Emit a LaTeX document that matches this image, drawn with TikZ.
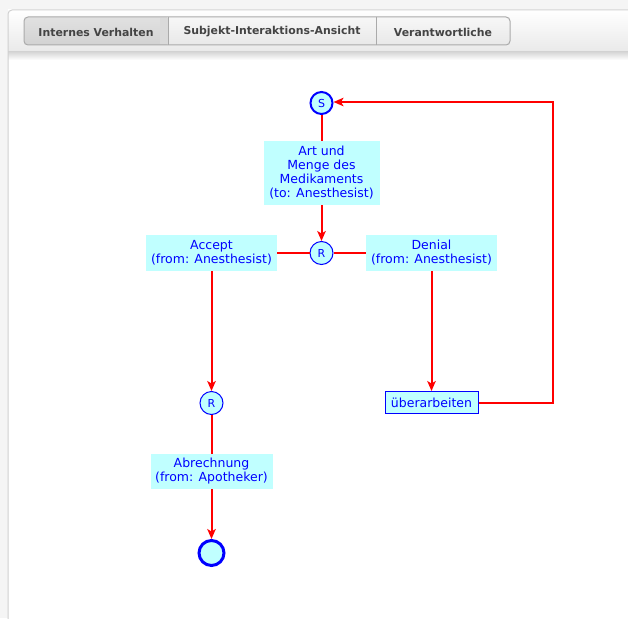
\documentclass[tikz,border=0pt]{standalone}
\usepackage{fontspec}
\setmainfont{DejaVu Sans}
\usetikzlibrary{arrows.meta}
\definecolor{cyanfill}{RGB}{192,255,255}
\definecolor{nodeblue}{RGB}{0,0,255}
\definecolor{linered}{RGB}{255,0,0}
\definecolor{pagebg}{RGB}{245,245,245}
\definecolor{framegray}{RGB}{208,208,208}
\definecolor{tabborder}{RGB}{170,170,170}
\definecolor{tabtext}{RGB}{68,68,68}
\definecolor{hdrbottom}{RGB}{233,233,233}
\definecolor{shadowtop}{RGB}{215,215,215}
\definecolor{seltop}{RGB}{225,225,225}
\definecolor{selbottom}{RGB}{210,210,210}
\definecolor{seledge}{RGB}{218,218,218}
\definecolor{tabtop}{RGB}{247,247,247}
\definecolor{tabbottom}{RGB}{232,232,232}
\tikzset{
  lbl/.style={font=\fontsize{12.5}{14}\selectfont, text=nodeblue, align=center},
  msgbox/.style={lbl, rectangle, fill=cyanfill, inner sep=0pt},
  statecirc/.style={circle, fill=cyanfill, draw=nodeblue, inner sep=0pt,
    font=\fontsize{11}{12}\selectfont, text=nodeblue},
  conn/.style={draw=linered, line width=2pt},
  arr/.style={-{Stealth[length=10pt,width=8.5pt,inset=2.5pt]}},
  tablbl/.style={font=\bfseries\fontsize{10.9}{12}\selectfont, text=tabtext}
}
\begin{document}
\begin{tikzpicture}[x=1pt,y=-1pt]
\useasboundingbox (0,0) rectangle (628,618);
% page background
\fill[pagebg] (0,0) rectangle (628,618);
% panel
\fill[white] (8,10) rectangle (640,630);
\shade[top color=white, bottom color=hdrbottom] (8,10) rectangle (640,52);
\shade[top color=shadowtop, bottom color=white] (8,52) rectangle (640,60);
\draw[framegray, line width=1pt, rounded corners=4pt] (8,640) -- (8,10) -- (650,10);
% tabs
\shade[top color=seltop, bottom color=selbottom, rounded corners=4pt]
  (24,17) rectangle (170,45);
\shade[top color=tabtop, bottom color=tabbottom, rounded corners=4pt]
  (166,17) rectangle (510,45);
\fill[seledge] (160,18) rectangle (168,44.5);
\draw[tabborder, line width=1pt, rounded corners=4pt] (24,17) rectangle (510,45);
\draw[tabborder, line width=1pt] (168,17) -- (168,45) (376,17) -- (376,45);
\node[tablbl] (tab1) at (96,32) {Internes Verhalten};
\node[tablbl] (tab2) at (272,32) {Subjekt-Interaktions-Ansicht};
\node[tablbl] (tab3) at (443,32) {Verantwortliche};
% nodes
\node[statecirc, minimum size=22pt, line width=2pt] (S) at (321.5,103) {S};
\node[msgbox, minimum width=116pt, minimum height=64pt] (art) at (321.5,173)
  {Art und\\Menge des\\Medikaments\\(to: Anesthesist)};
\node[statecirc, minimum size=23pt, line width=1pt] (R1) at (321.5,253) {R};
\node[msgbox, minimum width=131pt, minimum height=36pt] (accept) at (211.5,253)
  {Accept\\(from: Anesthesist)};
\node[msgbox, minimum width=131pt, minimum height=36pt] (denial) at (431.5,253)
  {Denial\\(from: Anesthesist)};
\node[statecirc, minimum size=23pt, line width=1pt] (R2) at (211.5,403) {R};
\node[msgbox, minimum width=122pt, minimum height=35pt] (abr) at (211.5,471.5)
  {Abrechnung\\(from: Apotheker)};
\node[statecirc, minimum size=25pt, line width=3pt] (end) at (211.5,553) {};
\node[msgbox, draw=nodeblue, line width=1pt, minimum width=93pt, minimum height=22pt] (ueber) at (431.5,402.5)
  {überarbeiten};
\coordinate (c1) at (553,402.5);
\coordinate (c2) at (553,102);
% connectors
\draw[conn] (S) -- (art);
\draw[conn, arr] (art) -- (R1);
\draw[conn] (R1) -- (accept);
\draw[conn] (R1) -- (denial);
\draw[conn, arr] (accept) -- (R2);
\draw[conn] (R2) -- (abr);
\draw[conn, arr] (abr) -- (end);
\draw[conn, arr] (denial) -- (ueber);
\draw[conn, arr] (ueber.east) -- (c1) -- (c2) -- (S.east |- c2);
\end{tikzpicture}
\end{document}
